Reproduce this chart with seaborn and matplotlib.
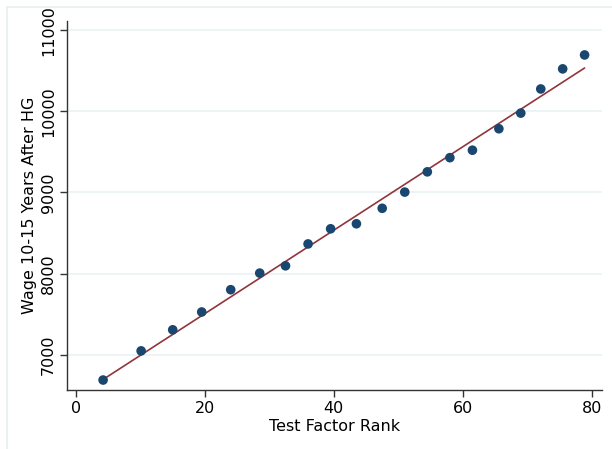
import numpy as np
import pandas as pd
import matplotlib
matplotlib.use("Agg")
import matplotlib.pyplot as plt
from matplotlib.lines import Line2D
import seaborn as sns

# Binned scatter values (Test Factor Rank vs wage)
test_rank = [4.2, 10.1, 15.0, 19.5, 24.0, 28.5, 32.5, 36.0, 39.5, 43.5,
             47.5, 51.0, 54.5, 58.0, 61.5, 65.6, 69.0, 72.1, 75.5, 78.9]
wage = [6685, 7045, 7305, 7525, 7800, 8005, 8095, 8365, 8552, 8614,
        8805, 9005, 9255, 9430, 9522, 9787, 9980, 10278, 10526, 10698]
# Linear fit line end values
fit_x = [4.2, 78.9]
fit_y = [6692, 10537]

x_ticks = [0, 20, 40, 60, 80]
y_ticks = [7000, 8000, 9000, 10000, 11000]
x_label = "Test Factor Rank"
y_label = "Wage 10-15 Years After HG"

sns.set_theme(style="white")
plt.rcParams['font.family'] = ['DejaVu Sans']

df = pd.DataFrame({"x": test_rank, "y": wage})
df_fit = pd.DataFrame({"x": fit_x, "y": fit_y})

fig = plt.figure(figsize=(6.12, 4.49), dpi=100)
fig.patch.set_facecolor("white")
# light outer graph-region frame (top and left edges)
fx = 6.5 / 612
fy = 1 - 6.5 / 449
fig.lines.append(Line2D([fx, 1.0], [fy, fy], transform=fig.transFigure,
                        color="#e8eff1", linewidth=1.2, zorder=0))
fig.lines.append(Line2D([fx, fx], [0.0, fy], transform=fig.transFigure,
                        color="#e8eff1", linewidth=1.2, zorder=0))

ax = fig.add_axes([67 / 612, 1 - 390 / 449, (602 - 67) / 612, (390 - 21) / 449])
ax.set_facecolor("white")

for yt in y_ticks:
    ax.axhline(yt, color="#eaf2f3", linewidth=1.2, zorder=0)

sns.lineplot(data=df_fit, x="x", y="y", ax=ax, color="#90353b",
             linewidth=1.2, zorder=2)
sns.scatterplot(data=df, x="x", y="y", ax=ax, color="#1a476f", s=48,
                edgecolor="none", linewidth=0, zorder=3)

ax.set_xlim(-1.4, 81.6)
ax.set_ylim(6562, 11117)
ax.set_xticks(x_ticks)
ax.set_yticks(y_ticks)
ax.set_xticklabels([str(t) for t in x_ticks], fontsize=11.5)
ax.set_yticklabels([str(t) for t in y_ticks], fontsize=11.5, rotation=90,
                   va="center")
ax.tick_params(axis="both", which="major", length=5, width=1,
               color="#333333", labelcolor="black", bottom=True, left=True,
               pad=3)
ax.set_xlabel(x_label, fontsize=11.5, labelpad=2, color="black")
ax.set_ylabel(y_label, fontsize=11.5, labelpad=3, color="black")

for side in ["top", "right"]:
    ax.spines[side].set_visible(False)
for side in ["left", "bottom"]:
    ax.spines[side].set_color("#333333")
    ax.spines[side].set_linewidth(1)

fig.savefig("out.png", dpi=100)
